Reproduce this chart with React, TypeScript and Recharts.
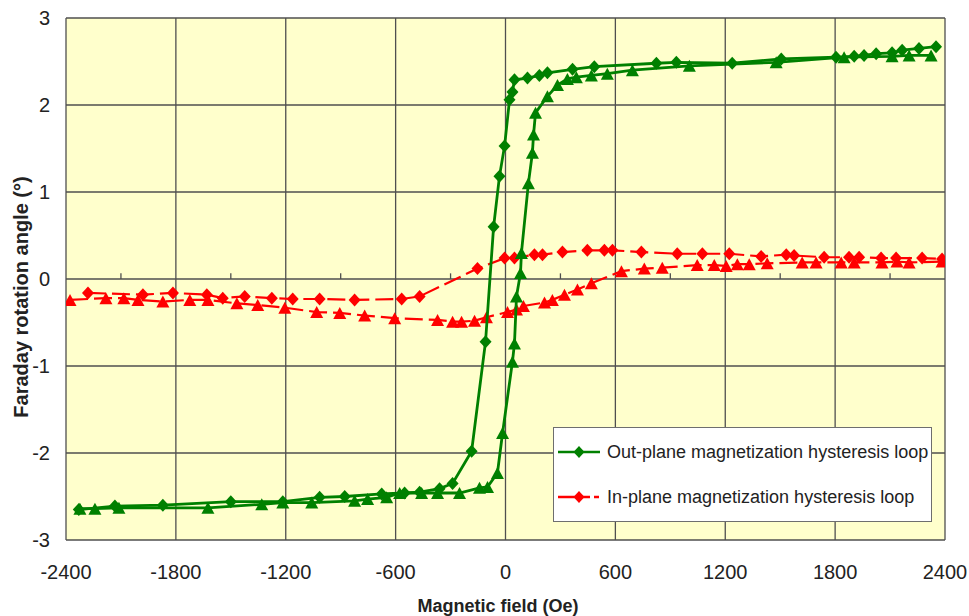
import React from 'react';
import {
  ScatterChart,
  Scatter,
  XAxis,
  YAxis,
  CartesianGrid,
  Legend,
  ReferenceLine,
} from 'recharts';

// Out-plane, decreasing field branch (diamonds)
const outDiaX = [-2330, -2133, -1871, -1500, -1216, -1015, -878, -676, -551, -469, -360, -289, -185, -109, -65, -33, -5, 22, 38, 49, 120, 185, 229, 366, 485, 824, 933, 1238, 1506, 1805, 1904, 1958, 2024, 2111, 2166, 2258, 2351];
const outDiaY = [-2.65, -2.61, -2.6, -2.56, -2.56, -2.51, -2.5, -2.47, -2.46, -2.45, -2.41, -2.35, -1.98, -0.72, 0.6, 1.18, 1.53, 2.06, 2.15, 2.29, 2.31, 2.34, 2.37, 2.41, 2.44, 2.48, 2.49, 2.48, 2.53, 2.55, 2.56, 2.57, 2.59, 2.6, 2.63, 2.65, 2.67];

// Out-plane, increasing field branch (triangles)
const outTriX = [-2324, -2242, -2111, -1625, -1331, -1216, -1058, -824, -753, -649, -578, -458, -371, -251, -142, -98, -44, -16, 38, 49, 60, 82, 87, 125, 147, 153, 164, 229, 284, 338, 387, 469, 556, 693, 1004, 1478, 1849, 2111, 2204, 2324];
const outTriY = [-2.64, -2.64, -2.63, -2.63, -2.59, -2.57, -2.57, -2.55, -2.53, -2.51, -2.46, -2.46, -2.46, -2.46, -2.4, -2.39, -2.23, -1.77, -0.95, -0.74, -0.2, 0.07, 0.3, 1.1, 1.45, 1.66, 1.91, 2.1, 2.23, 2.3, 2.32, 2.34, 2.36, 2.4, 2.45, 2.49, 2.55, 2.56, 2.57, 2.57];

// In-plane, decreasing field branch (diamonds)
const inDiaX = [-2280, -1980, -1816, -1631, -1544, -1424, -1276, -1162, -1015, -824, -567, -469, -153, -5, 49, 158, 202, 311, 447, 540, 584, 742, 938, 1075, 1222, 1396, 1533, 1576, 1740, 1876, 1931, 2051, 2133, 2275, 2384];
const inDiaY = [-0.16, -0.18, -0.16, -0.18, -0.22, -0.2, -0.22, -0.23, -0.23, -0.24, -0.23, -0.2, 0.12, 0.24, 0.24, 0.28, 0.28, 0.31, 0.33, 0.33, 0.33, 0.31, 0.29, 0.29, 0.29, 0.26, 0.28, 0.27, 0.25, 0.25, 0.25, 0.24, 0.24, 0.24, 0.23];

// In-plane, increasing field branch (triangles)
const inTriX = [-2378, -2182, -2084, -2007, -1871, -1724, -1625, -1467, -1353, -1205, -1031, -905, -769, -605, -371, -289, -240, -169, -104, 11, 60, 98, 213, 256, 322, 393, 469, 633, 758, 856, 1047, 1140, 1205, 1266, 1331, 1429, 1620, 1696, 1833, 1904, 2056, 2138, 2204, 2384];
const inTriY = [-0.24, -0.22, -0.22, -0.24, -0.26, -0.24, -0.24, -0.28, -0.3, -0.33, -0.38, -0.39, -0.42, -0.45, -0.47, -0.49, -0.49, -0.48, -0.44, -0.38, -0.35, -0.31, -0.27, -0.24, -0.18, -0.12, -0.05, 0.09, 0.12, 0.13, 0.16, 0.16, 0.15, 0.17, 0.17, 0.18, 0.19, 0.19, 0.19, 0.19, 0.19, 0.2, 0.19, 0.2];

const xTicks = [-2400, -1800, -1200, -600, 0, 600, 1200, 1800, 2400];
const yTicks = [-3, -2, -1, 0, 1, 2, 3];
const minorTicks = [-2100, -1500, -900, -300, 300, 900, 1500, 2100];

const legendLabels = [
  'Out-plane magnetization hysteresis loop',
  'In-plane magnetization hysteresis loop',
];

const zip = (xs: number[], ys: number[]) => xs.map((x, i) => ({ x, y: ys[i] }));

const outDia = zip(outDiaX, outDiaY);
const outTri = zip(outTriX, outTriY);
const inDia = zip(inDiaX, inDiaY);
const inTri = zip(inTriX, inTriY);

const GREEN = '#008000';
const RED = '#ff0000';
const FONT = "'Liberation Sans', Arial, sans-serif";

const Diamond = (props: any) => {
  const { cx, cy, fill } = props;
  if (cx == null || cy == null) return null;
  const w = 6;
  const h = 6.5;
  return <polygon points={`${cx},${cy - h} ${cx + w},${cy} ${cx},${cy + h} ${cx - w},${cy}`} fill={fill} />;
};

const Triangle = (props: any) => {
  const { cx, cy, fill } = props;
  if (cx == null || cy == null) return null;
  const w = 6.5;
  const h = 6;
  return <polygon points={`${cx},${cy - h} ${cx + w},${cy + h} ${cx - w},${cy + h}`} fill={fill} />;
};

const LegendBox = () => (
  <div
    style={{
      width: 379,
      height: 95,
      boxSizing: 'border-box',
      background: '#ffffff',
      border: '1.5px solid #6e6e6e',
    }}
  >
    <svg width={376} height={92} style={{ display: 'block' }}>
      <line x1={4} y1={24} x2={46} y2={24} stroke={GREEN} strokeWidth={2.5} />
      <polygon points="25,18 30.5,24 25,30 19.5,24" fill={GREEN} />
      <text x={53} y={30} fontSize={18} fontFamily={FONT} fill="#222">
        {legendLabels[0]}
      </text>
      <line x1={4} y1={69} x2={36} y2={69} stroke={RED} strokeWidth={2.5} />
      <line x1={40} y1={69} x2={45} y2={69} stroke={RED} strokeWidth={2.5} />
      <polygon points="25,63 30.5,69 25,75 19.5,69" fill={RED} />
      <text x={53} y={75} fontSize={18} fontFamily={FONT} fill="#222">
        {legendLabels[1]}
      </text>
    </svg>
  </div>
);

export default function App() {
  return (
    <div style={{ position: 'absolute', left: 0, top: 0, width: 969, height: 616, background: '#ffffff' }}>
      <ScatterChart
        width={969}
        height={616}
        margin={{ top: 18, right: 24, bottom: 0, left: 0 }}
        style={{ fontFamily: FONT }}
      >
        <CartesianGrid stroke="#4f4f4f" strokeWidth={1.3} fill="#ffffcc" fillOpacity={1} />
        <XAxis
          type="number"
          dataKey="x"
          domain={[-2400, 2400]}
          ticks={xTicks}
          interval={0}
          allowDataOverflow
          height={76}
          axisLine={false}
          tickLine={false}
          tickSize={0}
          tickMargin={25}
          tick={{ fontSize: 20, fill: '#222', fontFamily: FONT }}
          label={(p: any) => (
            <text x={498} y={612} textAnchor="middle" fontSize={18} fontWeight="bold" fontFamily={FONT} fill="#222">
              Magnetic field (Oe)
            </text>
          )}
        />
        <YAxis
          type="number"
          dataKey="y"
          domain={[-3, 3]}
          ticks={yTicks}
          interval={0}
          allowDataOverflow
          width={66}
          axisLine={false}
          tickLine={false}
          tickSize={0}
          tickMargin={16}
          tick={{ fontSize: 20, fill: '#222', fontFamily: FONT }}
          label={(p: any) => (
            <text
              x={28}
              y={297}
              transform="rotate(-90 28 297)"
              textAnchor="middle"
              fontSize={20}
              fontWeight="bold"
              fontFamily={FONT}
              fill="#222"
            >
              Faraday rotation angle (°)
            </text>
          )}
        />
        {minorTicks.map((t) => (
          <ReferenceLine
            key={t}
            segment={[
              { x: t, y: 0 },
              { x: t, y: 0.065 },
            ]}
            stroke="#4f4f4f"
            strokeWidth={1.3}
            ifOverflow="visible"
          />
        ))}
        <Scatter
          name="inTri"
          data={inTri}
          fill={RED}
          line={{ stroke: RED, strokeWidth: 2.2, strokeDasharray: '18 6' }}
          lineType="joint"
          shape={<Triangle />}
          isAnimationActive={false}
          legendType="none"
        />
        <Scatter
          name="inDia"
          data={inDia}
          fill={RED}
          line={{ stroke: RED, strokeWidth: 2.2, strokeDasharray: '18 6' }}
          lineType="joint"
          shape={<Diamond />}
          isAnimationActive={false}
          legendType="none"
        />
        <Scatter
          name="outTri"
          data={outTri}
          fill={GREEN}
          line={{ stroke: GREEN, strokeWidth: 2.8 }}
          lineType="joint"
          shape={<Triangle />}
          isAnimationActive={false}
          legendType="none"
        />
        <Scatter
          name="outDia"
          data={outDia}
          fill={GREEN}
          line={{ stroke: GREEN, strokeWidth: 2.8 }}
          lineType="joint"
          shape={<Diamond />}
          isAnimationActive={false}
          legendType="none"
        />
        <Legend
          layout="vertical"
          align="center"
          verticalAlign="middle"
          content={() => <LegendBox />}
          wrapperStyle={{ position: 'absolute', left: 553, top: 427, width: 379, height: 95, margin: 0 }}
        />
      </ScatterChart>
    </div>
  );
}
